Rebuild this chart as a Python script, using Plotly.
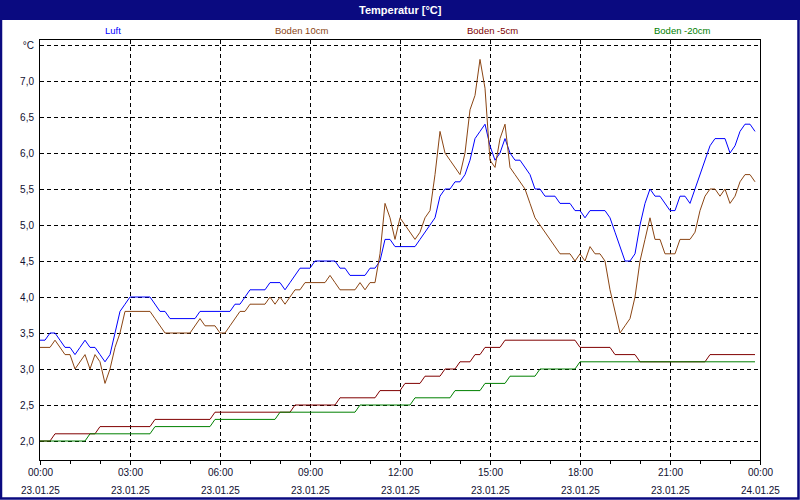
import plotly.graph_objects as go

DAY = "2025-01-23"

# ---- data (time of day, value in °C) ----
luft_t = ["00:00","00:10","00:20","00:30","00:40","00:50","01:00","01:10","01:20","01:30","01:40","01:50",
          "02:00","02:10","02:20","02:30","02:40","02:50","03:00","03:40","03:50","04:00","04:10","04:20",
          "05:10","05:20","06:20","06:30","06:40","06:50","07:00","07:30","07:40","08:00","08:10","08:20",
          "08:30","08:40","09:00","09:10","09:50","10:00","10:10","10:20","10:50","11:00","11:10","11:20",
          "11:30","11:40","11:50","12:30","12:40","12:50","13:00","13:10","13:20","13:30","13:40","13:50",
          "14:00","14:10","14:20","14:30","14:40","14:50","15:00","15:10","15:20","15:30","15:40","15:50",
          "16:00","16:10","16:20","16:30","16:40","16:50","17:10","17:20","17:40","17:50","18:00","18:10",
          "18:20","18:50","19:00","19:10","19:20","19:30","19:40","19:50","20:00","20:10","20:20","20:30",
          "20:40","20:50","21:00","21:10","21:20","21:30","21:40","21:50","22:00","22:10","22:20","22:30",
          "22:50","23:00","23:10","23:20","23:30","23:40","23:50"]
luft_v = [3.4,3.4,3.5,3.5,3.4,3.3,3.3,3.2,3.3,3.4,3.3,3.3,
          3.2,3.1,3.2,3.5,3.8,3.9,4.0,4.0,3.9,3.8,3.8,3.7,
          3.7,3.8,3.8,3.9,3.9,4.0,4.1,4.1,4.2,4.2,4.1,4.2,
          4.3,4.4,4.4,4.5,4.5,4.4,4.4,4.3,4.3,4.4,4.4,4.5,
          4.8,4.8,4.7,4.7,4.8,4.9,5.0,5.1,5.4,5.5,5.5,5.6,
          5.6,5.7,5.9,6.2,6.3,6.4,6.1,5.9,6.0,6.2,6.0,5.9,
          5.9,5.8,5.7,5.5,5.5,5.4,5.4,5.3,5.3,5.2,5.2,5.1,
          5.2,5.2,5.1,4.9,4.7,4.5,4.5,4.6,5.0,5.3,5.5,5.4,
          5.4,5.3,5.2,5.2,5.4,5.4,5.3,5.5,5.7,5.9,6.1,6.2,
          6.2,6.0,6.1,6.3,6.4,6.4,6.3]

boden10_t = ["00:00","00:20","00:30","00:40","00:50","01:00","01:10","01:30","01:40","01:50","02:00","02:10",
             "02:20","02:30","02:40","02:50","03:40","03:50","04:00","04:10","05:00","05:10","05:20","05:30",
             "05:50","06:00","06:10","06:20","06:30","06:40","06:50","07:00","07:30","07:40","07:50","08:00",
             "08:10","08:20","08:30","08:40","08:50","09:30","09:40","09:50","10:00","10:30","10:40","10:50",
             "11:00","11:10","11:20","11:30","11:40","11:50","12:00","12:10","12:20","12:30","12:40","12:50",
             "13:00","13:10","13:20","13:30","13:40","13:50","14:00","14:10","14:20","14:30","14:40","14:50",
             "15:00","15:10","15:20","15:30","15:40","15:50","16:00","16:10","16:20","16:30","16:40","16:50",
             "17:00","17:10","17:20","17:40","17:50","18:00","18:10","18:20","18:30","18:40","18:50","19:00",
             "19:10","19:20","19:30","19:40","19:50","20:00","20:10","20:20","20:30","20:40","20:50","21:10",
             "21:20","21:40","21:50","22:00","22:10","22:20","22:30","22:40","22:50","23:00","23:10","23:20",
             "23:30","23:40","23:50"]
boden10_v = [3.3,3.3,3.4,3.3,3.2,3.2,3.0,3.2,3.0,3.2,3.1,2.8,
             3.0,3.3,3.5,3.8,3.8,3.7,3.6,3.5,3.5,3.6,3.7,3.6,
             3.6,3.5,3.5,3.6,3.7,3.8,3.8,3.9,3.9,4.0,3.9,4.0,
             3.9,4.0,4.1,4.1,4.2,4.2,4.3,4.2,4.1,4.1,4.2,4.1,
             4.2,4.2,4.6,5.3,5.1,4.8,5.1,5.0,4.9,4.8,4.9,5.1,
             5.2,5.7,6.3,6.0,5.9,5.8,5.7,6.0,6.6,6.8,7.3,6.9,
             5.9,5.8,6.2,6.4,5.8,5.7,5.6,5.5,5.3,5.1,5.0,4.9,
             4.8,4.7,4.6,4.6,4.5,4.6,4.5,4.7,4.6,4.6,4.5,4.1,
             3.8,3.5,3.6,3.7,4.0,4.5,4.8,5.1,4.8,4.8,4.6,4.6,
             4.8,4.8,4.9,5.2,5.4,5.5,5.5,5.4,5.5,5.3,5.4,5.6,
             5.7,5.7,5.6]

boden5_t = ["00:00","00:20","00:30","01:50","02:00","03:40","03:50","05:40","05:50","08:20","08:30","09:50",
            "10:00","11:10","11:20","12:00","12:10","12:40","12:50","13:20","13:30","13:50","14:00","14:20",
            "14:30","14:40","14:50","15:20","15:30","17:50","18:00","19:00","19:10","19:50","20:00","22:10",
            "22:20","23:50"]
boden5_v = [2.0,2.0,2.1,2.1,2.2,2.2,2.3,2.3,2.4,2.4,2.5,2.5,
            2.6,2.6,2.7,2.7,2.8,2.8,2.9,2.9,3.0,3.0,3.1,3.1,
            3.2,3.2,3.3,3.3,3.4,3.4,3.3,3.3,3.2,3.2,3.1,3.1,
            3.2,3.2]

boden20_t = ["00:00","01:30","01:40","03:40","03:50","05:40","05:50","07:50","08:00","10:30","10:40","12:20",
             "12:30","13:40","13:50","14:40","14:50","15:30","15:40","16:30","16:40","17:50","18:00","23:50"]
boden20_v = [2.0,2.0,2.1,2.1,2.2,2.2,2.3,2.3,2.4,2.4,2.5,2.5,
             2.6,2.6,2.7,2.7,2.8,2.8,2.9,2.9,3.0,3.0,3.1,3.1]

series_names = ["Luft", "Boden 10cm", "Boden -5cm", "Boden -20cm"]
series_colors = ["#0000ff", "#8b4513", "#800000", "#008000"]

x_tick_times = ["2025-01-23 00:00","2025-01-23 03:00","2025-01-23 06:00","2025-01-23 09:00",
                "2025-01-23 12:00","2025-01-23 15:00","2025-01-23 18:00","2025-01-23 21:00",
                "2025-01-24 00:00"]
x_tick_labels = ["00:00","03:00","06:00","09:00","12:00","15:00","18:00","21:00","00:00"]
x_tick_dates = ["23.01.25"] * 8 + ["24.01.25"]

y_tick_vals = [2.0,2.5,3.0,3.5,4.0,4.5,5.0,5.5,6.0,6.5,7.0,7.5]
y_tick_text = ["2,0","2,5","3,0","3,5","4,0","4,5","5,0","5,5","6,0","6,5","7,0","°C"]

# ---- geometry (pixels) ----
W, H = 800, 500
L, R, T, B = 40, 40, 40, 40
PW, PH = W - L - R, H - T - B
NAVY = "#0a0a80"
FONT = "Liberation Sans"


def px_x(p):
    return (p - L) / PW


def px_y(p):
    return (H - B - p) / PH


fig = go.Figure()
data = [(luft_t, luft_v), (boden10_t, boden10_v), (boden5_t, boden5_v), (boden20_t, boden20_v)]
for (ts, vs), name, col in zip(data, series_names, series_colors):
    fig.add_trace(go.Scatter(
        x=[f"{DAY} {t}" for t in ts], y=vs, mode="lines", name=name,
        line=dict(color=col, width=1), showlegend=False, hoverinfo="skip"))

# y range: 7.5 at 45px, 72px per °C
y_top = 7.5 + (45 - T) / 72
y_bot = 7.5 - (H - B - 45) / 72

fig.update_layout(
    width=W, height=H, margin=dict(l=L, r=R, t=T, b=B),
    paper_bgcolor="white", plot_bgcolor="white",
    font=dict(family=FONT, size=10, color="#101030"),
    xaxis=dict(
        type="date", range=["2025-01-23 00:00", "2025-01-24 00:00"],
        tickvals=x_tick_times, ticktext=[""] * len(x_tick_times),
        showgrid=True, gridcolor="black", gridwidth=1, griddash="4px,3px",
        showline=True, linecolor="black", linewidth=1, mirror=True,
        ticks="outside", ticklen=4, tickcolor="black",
        minor=dict(dtick=3600000, ticks="outside", ticklen=3, tickcolor="black", showgrid=False),
        zeroline=False,
    ),
    yaxis=dict(
        range=[y_bot, y_top], tickvals=y_tick_vals, ticktext=y_tick_text,
        showgrid=True, gridcolor="black", gridwidth=1, griddash="4px,3px",
        showline=True, linecolor="black", linewidth=1, mirror=True,
        ticks="", ticklabelstandoff=3, zeroline=False,
        tickfont=dict(family=FONT, size=10, color="#101030"),
    ),
)

shapes = [
    # outer navy frame
    dict(type="rect", xref="paper", yref="paper",
         x0=px_x(1), x1=px_x(W - 1.5), y0=px_y(H - 1.5), y1=px_y(1),
         line=dict(color=NAVY, width=2.5), fillcolor="rgba(0,0,0,0)", layer="below"),
    # title bar
    dict(type="rect", xref="paper", yref="paper",
         x0=px_x(0), x1=px_x(W), y0=px_y(20), y1=px_y(0),
         line=dict(width=0), fillcolor=NAVY, layer="above"),
]
fig.update_layout(shapes=shapes)

annotations = [
    dict(text="<b>Temperatur [°C]</b>", xref="paper", yref="paper", x=px_x(400), y=px_y(10),
         xanchor="center", yanchor="middle", showarrow=False,
         font=dict(family=FONT, size=11, color="white")),
]
legend_x = [113, 301, 492, 682]
for name, col, lx in zip(series_names, series_colors, legend_x):
    annotations.append(dict(text=name, xref="paper", yref="paper", x=px_x(lx), y=px_y(30),
                            xanchor="center", yanchor="middle", showarrow=False,
                            font=dict(family=FONT, size=9.5, color=col)))
for tv, tl, td in zip(x_tick_times, x_tick_labels, x_tick_dates):
    annotations.append(dict(text=tl, xref="x", yref="paper", x=tv, y=px_y(473),
                            xanchor="center", yanchor="middle", showarrow=False,
                            font=dict(family=FONT, size=10, color="#101030")))
    annotations.append(dict(text=td, xref="x", yref="paper", x=tv, y=px_y(490),
                            xanchor="center", yanchor="middle", showarrow=False,
                            font=dict(family=FONT, size=10, color="#101030")))
fig.update_layout(annotations=annotations)

fig.write_html("out.html")
